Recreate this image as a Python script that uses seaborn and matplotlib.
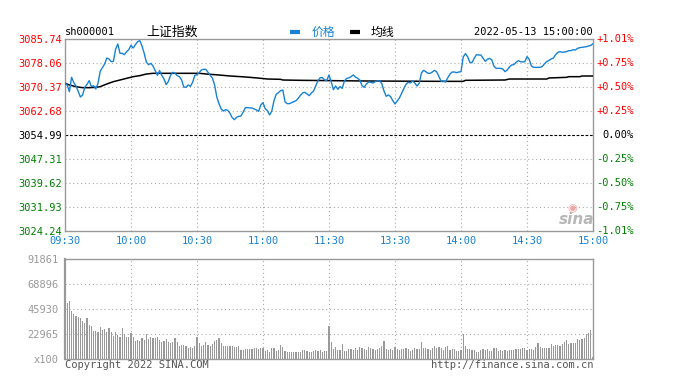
import numpy as np
import pandas as pd
import matplotlib
matplotlib.use("Agg")
import matplotlib.pyplot as plt
import matplotlib.transforms as mtransforms
from matplotlib.lines import Line2D
import seaborn as sns

# ---------------- data ----------------
code = "sh000001"
name = "上证指数"
stamp = "2022-05-13 15:00:00"
legend_labels = ["价格", "均线"]
prev_close = 3054.99

price = [
    3071.59, 3071.06, 3068.91, 3073.52, 3071.81, 3070.74, 3069.02, 3067.20, 3067.84, 3070.31,
    3071.27, 3072.45, 3070.52, 3070.84, 3069.77, 3071.59, 3075.45, 3076.63, 3077.80, 3079.73,
    3079.41, 3078.55, 3078.66, 3082.52, 3084.23, 3081.23, 3081.23, 3080.80, 3081.77, 3082.41,
    3083.80, 3082.94, 3084.02, 3084.98, 3085.30, 3083.59, 3081.23, 3078.34, 3077.59, 3078.02,
    3077.16, 3075.66, 3074.16, 3075.66, 3074.16, 3072.98, 3071.16, 3072.23, 3074.16, 3075.13,
    3074.81, 3074.06, 3073.73, 3072.66, 3070.41, 3070.31, 3071.06, 3070.63, 3071.91, 3074.16,
    3074.38, 3075.02, 3075.88, 3076.09, 3076.09, 3075.13, 3074.16, 3073.31, 3071.06, 3067.20,
    3065.06, 3063.35, 3062.70, 3063.13, 3062.92, 3061.95, 3060.56, 3059.92, 3060.67, 3060.99,
    3061.10, 3062.38, 3063.78, 3063.78, 3063.67, 3063.67, 3063.35, 3063.03, 3062.60, 3064.63,
    3065.38, 3063.45, 3062.81, 3061.42, 3062.70, 3066.02, 3068.06, 3068.60, 3069.24, 3069.45,
    3065.70, 3065.06, 3065.06, 3065.38, 3065.70, 3066.02, 3066.77, 3067.74, 3068.49, 3068.70,
    3068.17, 3067.63, 3068.49, 3069.13, 3070.84, 3072.45, 3073.41, 3073.41, 3072.66, 3072.56,
    3074.27, 3072.13, 3069.56, 3070.74, 3069.67, 3070.52, 3069.99, 3072.34, 3073.20, 3073.31,
    3073.74, 3074.27, 3073.63, 3073.20, 3072.66, 3070.84, 3070.31, 3071.38, 3072.02, 3071.92,
    3071.70, 3072.13, 3072.34, 3072.45, 3071.49, 3069.13, 3067.42, 3067.85, 3067.31, 3066.02,
    3064.95, 3065.92, 3066.88, 3068.38, 3069.88, 3071.27, 3071.92, 3071.70, 3072.34, 3071.70,
    3070.74, 3071.59, 3074.91, 3075.77, 3075.34, 3074.81, 3074.81, 3075.24, 3075.77, 3075.24,
    3073.74, 3072.23, 3072.34, 3072.02, 3073.41, 3074.59, 3075.23, 3075.23, 3075.02, 3075.23,
    3075.34, 3080.05, 3081.12, 3080.16, 3078.34, 3078.23, 3079.62, 3080.80, 3080.69, 3080.69,
    3079.73, 3078.66, 3079.30, 3079.62, 3079.09, 3077.05, 3076.41, 3076.41, 3076.41, 3076.20,
    3075.34, 3075.87, 3076.84, 3077.48, 3077.59, 3078.34, 3078.87, 3078.55, 3078.45, 3078.55,
    3080.16, 3079.30, 3077.16, 3076.73, 3076.73, 3076.73, 3076.73, 3077.05, 3077.91, 3078.55,
    3078.98, 3079.41, 3079.73, 3080.80, 3081.55, 3081.77, 3081.55, 3081.66, 3081.77, 3082.09,
    3082.09, 3082.41, 3082.30, 3082.84, 3083.05, 3083.16, 3083.26, 3083.37, 3083.59, 3083.80,
    3084.34,
]

avg_minute = [0, 2, 5, 8, 11, 14, 16, 19, 22, 25, 28, 31, 34, 37, 40, 61, 66, 70, 75, 80,
              84, 89, 92, 98, 99, 107, 122, 137, 171, 181, 182, 200, 202, 219, 220, 228,
              229, 234, 235, 240]
avg_price = [3071.59, 3071.06, 3070.52, 3070.20, 3070.20, 3070.31, 3070.52, 3071.38, 3072.13,
             3072.66, 3073.20, 3073.73, 3074.06, 3074.59, 3074.81, 3074.81, 3074.48, 3074.27,
             3073.95, 3073.73, 3073.52, 3073.20, 3072.98, 3072.88, 3072.66, 3072.56, 3072.45,
             3072.34, 3072.23, 3072.23, 3072.56, 3072.66, 3072.98, 3072.98, 3073.31, 3073.52,
             3073.73, 3073.73, 3073.95, 3073.95]

volume = [
    51440, 51440, 53590, 44400, 41640, 39810, 39190, 38280, 35210, 33070,
    38280, 31540, 30620, 26030, 26030, 24800, 29700, 26950, 27860, 24800,
    28480, 24800, 21740, 24800, 22350, 20820, 28480, 22970, 20820, 20820,
    23880, 20210, 17150, 17760, 16840, 19290, 17760, 22970, 18370, 20820,
    19290, 19900, 20210, 17760, 15620, 16840, 18680, 15620, 15310, 16230,
    19290, 16230, 12550, 13170, 13170, 12550, 10720, 11640, 10100, 12250,
    20210, 15310, 12550, 13170, 15620, 13170, 12550, 13780, 17150, 17760,
    19900, 15000, 12550, 12550, 12550, 12550, 12550, 11640, 11020, 12550,
    8570, 8570, 9190, 9190, 9190, 9190, 10410, 10410, 9190, 10410,
    10410, 7660, 8570, 6740, 10410, 10410, 7660, 8570, 13170, 11330,
    7660, 6740, 6740, 6740, 6740, 6740, 6740, 6740, 8570, 8570,
    7660, 6740, 6740, 7660, 8570, 7660, 8570, 6740, 7660, 7660,
    30620, 15920, 9490, 11330, 8570, 8570, 14090, 7660, 7660, 9490,
    9490, 8570, 10410, 8570, 11330, 10410, 9490, 8570, 11330, 10410,
    9490, 8570, 9490, 10410, 12250, 16840, 9490, 8570, 9490, 8570,
    11330, 9490, 8570, 9490, 9490, 10410, 9490, 7660, 8570, 10410,
    9490, 9490, 15920, 10410, 10410, 9490, 8570, 10410, 12250, 10410,
    11330, 10100, 8570, 11330, 12250, 8570, 9490, 9490, 7660, 7660,
    8570, 22970, 12250, 9490, 9490, 8570, 8570, 7040, 7040, 8570,
    9490, 8570, 9490, 7660, 7660, 10100, 10100, 7660, 8570, 7660,
    8570, 7660, 8570, 8570, 8570, 9490, 9490, 9490, 10410, 10410,
    8570, 9490, 9490, 8570, 11330, 15000, 11330, 10410, 10410, 10410,
    10410, 14090, 12250, 13170, 13170, 12250, 14090, 15920, 17760, 14090,
    15000, 15000, 15000, 18680, 17760, 18680, 19600, 22970, 24190, 26950,
    2450,
]

time_labels = ["09:30", "10:00", "10:30", "11:00", "11:30", "13:30", "14:00", "14:30", "15:00"]
price_ticks = [3085.74, 3078.06, 3070.37, 3062.68, 3054.99, 3047.31, 3039.62, 3031.93, 3024.24]
pct_labels = ["+1.01%", "+0.75%", "+0.50%", "+0.25%", "0.00%", "-0.25%", "-0.50%", "-0.75%", "-1.01%"]
vol_ticks = [0, 22965, 45930, 68896, 91861]
vol_labels = ["x100", "22965", "45930", "68896", "91861"]

# ---------------- style ----------------
sns.set_theme(style="white")
MONO = "DejaVu Sans Mono"
CJK = "Noto Sans CJK SC"
plt.rcParams["font.family"] = [MONO, CJK]
BLUE = "#1782d4"
RED = "#ff0000"
GREEN = "#008000"
GRID = "#aaaaaa"
SPINE = "#999999"
FS = 7.5

W, H = 683, 380
fig = plt.figure(figsize=(W / 100, H / 100), dpi=100)
fig.patch.set_facecolor("white")
L, R = 65, 593
ax = fig.add_axes([L / W, 1 - 230.7 / H, (R - L) / W, 191.4 / H])
axv = fig.add_axes([L / W, 1 - 359.3 / H, (R - L) / W, 100.0 / H])

minutes = np.arange(len(price))
xticks = np.arange(0, 241, 30)

# ---------------- price panel ----------------
for t in price_ticks[1:-1]:
    if t == prev_close:
        ax.axhline(t, color="black", lw=0.8, ls=(0, (2.5, 1.5)), zorder=1)
    else:
        ax.axhline(t, color=GRID, lw=0.8, ls=(0, (1, 2.5)), zorder=1)
for xt in xticks[1:-1]:
    ax.axvline(xt, color=GRID, lw=0.8, ls=(0, (1, 2.5)), zorder=1)

df_price = pd.DataFrame({"minute": minutes, "price": price})
df_avg = pd.DataFrame({"minute": avg_minute, "avg": avg_price})
sns.lineplot(data=df_avg, x="minute", y="avg", ax=ax, color="black", lw=1.1, zorder=3)
sns.lineplot(data=df_price, x="minute", y="price", ax=ax, color=BLUE, lw=1.0, zorder=4)

ax.set_xlim(0, 240)
ax.set_ylim(price_ticks[-1], price_ticks[0])
ax.set_xlabel("")
ax.set_ylabel("")
ax.set_xticks(xticks)
ax.set_xticklabels(time_labels, color=BLUE, fontsize=FS, family=MONO)
ax.set_yticks(price_ticks)
ax.set_yticklabels([f"{t:.2f}" for t in price_ticks], fontsize=FS, family=MONO)
for lab, t in zip(ax.get_yticklabels(), price_ticks):
    lab.set_color(RED if t > prev_close else (GREEN if t < prev_close else "black"))
ax.tick_params(axis="both", length=0)
ax.tick_params(axis="y", pad=2.3)
ax.tick_params(axis="x", pad=3.5)

trans = mtransforms.blended_transform_factory(ax.transAxes, ax.transData)
xr = (634 - L) / (R - L)
for t, lab in zip(price_ticks, pct_labels):
    c = RED if t > prev_close else (GREEN if t < prev_close else "black")
    ax.text(xr, t, lab, transform=trans, ha="right", va="center", color=c,
            fontsize=FS, family=MONO, clip_on=False)

for sp in ax.spines.values():
    sp.set_color(SPINE)
    sp.set_linewidth(1.0)

# ---------------- volume panel ----------------
for t in vol_ticks[1:-1]:
    axv.axhline(t, color=GRID, lw=0.8, ls=(0, (1, 2.5)), zorder=1)
for xt in xticks[1:-1]:
    axv.axvline(xt, color=GRID, lw=0.8, ls=(0, (1, 2.5)), zorder=1)

df_vol = pd.DataFrame({"minute": minutes, "volume": volume})
sns.barplot(data=df_vol, x="minute", y="volume", ax=axv, native_scale=True,
            color="#999999", saturation=1, width=0.5, errorbar=None,
            linewidth=0, zorder=2)
axv.set_xlim(0, 240)
axv.set_ylim(0, vol_ticks[-1])
axv.set_xlabel("")
axv.set_ylabel("")
axv.set_xticks(xticks)
axv.set_xticklabels([])
axv.set_yticks(vol_ticks)
axv.set_yticklabels(vol_labels, color="#999999", fontsize=FS, family=MONO)
axv.tick_params(axis="both", length=0)
axv.tick_params(axis="y", pad=4.5)
for sp in axv.spines.values():
    sp.set_color(SPINE)
    sp.set_linewidth(1.0)
axv.spines["left"].set_linewidth(1.6)

# ---------------- header / footer texts ----------------
yt = 1 - 32 / H
fig.text(L / W, yt, code, fontsize=FS, family=MONO, va="center", ha="left", color="black")
fig.text(146 / W, yt, name, fontsize=9.3, family=[CJK, MONO], va="center", ha="left", color="black")
fig.text(R / W, yt, stamp, fontsize=FS, family=MONO, va="center", ha="right", color="black")
fig.add_artist(Line2D([290 / W, 300 / W], [yt, yt], color=BLUE, lw=3, solid_capstyle="butt"))
fig.text(312 / W, yt, legend_labels[0], fontsize=8.6, family=[CJK, MONO], va="center", ha="left", color=BLUE)
fig.add_artist(Line2D([350 / W, 360 / W], [yt, yt], color="black", lw=3, solid_capstyle="butt"))
fig.text(371 / W, yt, legend_labels[1], fontsize=8.6, family=[CJK, MONO], va="center", ha="left", color="black")

yb = 1 - 364.5 / H
fig.text(L / W, yb, "Copyright 2022 SINA.COM", fontsize=FS, family=MONO, va="center", ha="left", color="#555555")
fig.text(R / W, yb, "http://finance.sina.com.cn", fontsize=FS, family=MONO, va="center", ha="right", color="#555555")

# sina watermark
fig.text(577 / W, 1 - 219 / H, "sina", fontsize=11, style="italic", weight="bold",
         family="DejaVu Sans", color="#b8b8b8", ha="center", va="center")
fig.text(572 / W, 1 - 208 / H, "\u25c9", fontsize=8, family="DejaVu Sans",
         color="#f2a5a5", ha="center", va="center")

fig.savefig("out.png", dpi=100, facecolor="white")
